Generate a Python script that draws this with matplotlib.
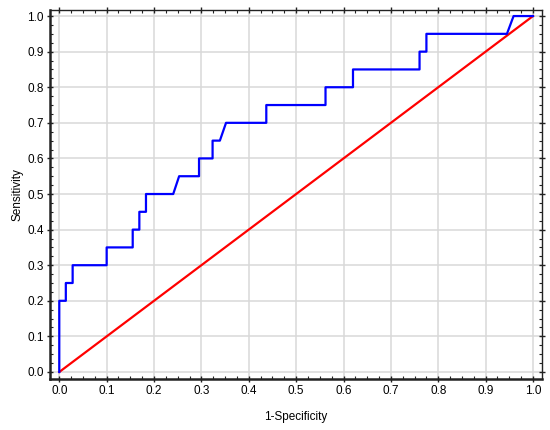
import matplotlib
matplotlib.use("Agg")
import matplotlib.pyplot as plt
from matplotlib.ticker import MultipleLocator

plt.rcParams['font.family'] = ['Liberation Sans', 'DejaVu Sans']

# ROC curve vertices (1-Specificity, Sensitivity)
fpr = [0.0, 0.0, 0.0138, 0.0138, 0.0282, 0.0282, 0.100, 0.100, 0.155, 0.155,
       0.169, 0.169, 0.183, 0.183, 0.2405, 0.253, 0.295, 0.295, 0.3236, 0.3236,
       0.339, 0.352, 0.437, 0.437, 0.562, 0.562, 0.620, 0.620, 0.7605, 0.7605,
       0.775, 0.775, 0.945, 0.959, 1.0]
tpr = [0.0, 0.20, 0.20, 0.25, 0.25, 0.30, 0.30, 0.35, 0.35, 0.40,
       0.40, 0.45, 0.45, 0.50, 0.50, 0.55, 0.55, 0.60, 0.60, 0.65,
       0.65, 0.70, 0.70, 0.75, 0.75, 0.80, 0.80, 0.85, 0.85, 0.90,
       0.90, 0.95, 0.95, 1.00, 1.00]
ref_x = [0.0, 1.0]
ref_y = [0.0, 1.0]
ticks = [0.0, 0.1, 0.2, 0.3, 0.4, 0.5, 0.6, 0.7, 0.8, 0.9, 1.0]
tick_labels = ["0.0", "0.1", "0.2", "0.3", "0.4", "0.5", "0.6", "0.7", "0.8", "0.9", "1.0"]

fig = plt.figure(figsize=(5.5, 4.3), dpi=100)
ax = fig.add_axes([50/550, 1-379/430, 492/550, 369/430])

ax.grid(True, color='#d9d9d9', linewidth=1.1, zorder=0)
ax.plot(ref_x, ref_y, color='#ff0000', linewidth=1.6, zorder=3)
ax.plot(fpr, tpr, color='#0000ff', linewidth=1.6, zorder=4)

ax.set_xlim(-0.0196, 1.019)
ax.set_ylim(-0.0197, 1.017)
ax.set_xticks(ticks)
ax.set_xticklabels(tick_labels)
ax.set_yticks(ticks)
ax.set_yticklabels(tick_labels)
ax.xaxis.set_minor_locator(MultipleLocator(0.025))
ax.yaxis.set_minor_locator(MultipleLocator(0.025))
ax.tick_params(which='major', direction='inout', length=5, width=1.0,
               top=True, right=True, labelsize=8.5, pad=2, color='#222222')
ax.tick_params(which='minor', direction='in', length=2.5, width=0.8,
               top=True, right=True, color='#222222')

for side in ['left', 'bottom']:
    ax.spines[side].set_linewidth(1.8)
for side in ['top', 'right']:
    ax.spines[side].set_linewidth(1.0)
for s in ax.spines.values():
    s.set_color('#222222')

ax.set_xlabel('1-Specificity', fontsize=8.5, labelpad=10)
ax.set_ylabel('Sensitivity', fontsize=8.5, labelpad=3)

fig.savefig('out.png', dpi=100)
